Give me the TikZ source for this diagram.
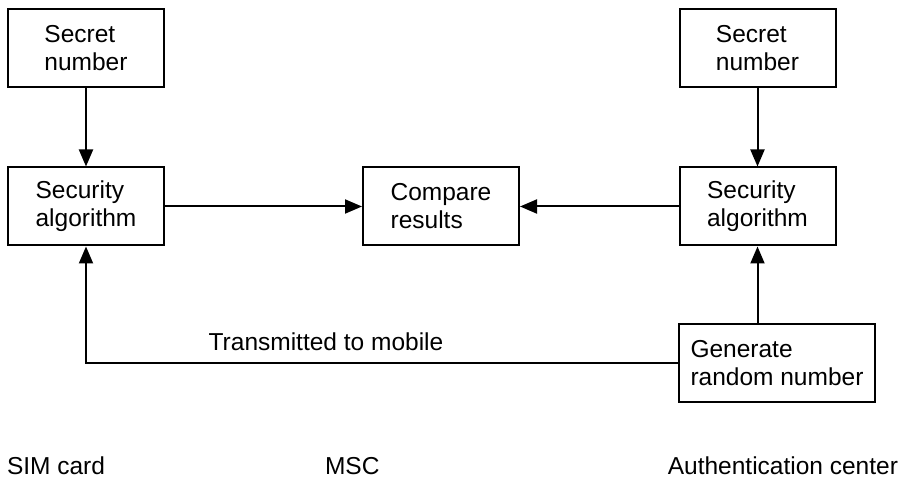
\documentclass[tikz,border=0pt]{standalone}
\usepackage{fontspec}
\setmainfont{Liberation Sans}
\usetikzlibrary{arrows.meta}

\begin{document}
\begin{tikzpicture}[x=1pt,y=1pt,
  box/.style={draw=drawColor,line width=2pt,align=left,inner sep=0pt,
    minimum width=156pt,minimum height=78pt,font=\fontsize{24.5}{28}\selectfont},
  lbl/.style={text=drawColor,inner sep=0pt,outer sep=0pt,font=\fontsize{24.5}{28}\selectfont},
  arr/.style={draw=drawColor,line width=2pt,-{Triangle[length=17pt,width=14pt]}}]
\definecolor{fillColor}{RGB}{255,255,255}
\definecolor{drawColor}{RGB}{0,0,0}
\path[use as bounding box,fill=fillColor] (0,0) rectangle (900,479);

\node[box] (secL) at ( 86.00,431.00) {Secret\\number};

\node[box] (algL) at ( 86.00,272.50) {Security\\algorithm};

\node[box] (cmp) at (441.00,272.50) {Compare\\results};

\node[box] (secR) at (757.50,431.00) {Secret\\number};

\node[box] (algR) at (757.50,272.50) {Security\\algorithm};

\node[box,minimum width=196pt] (gen) at (777.00,115.50) {Generate\\random number};

\draw[arr] (secL) -- (algL);

\draw[arr] (secR) -- (algR);

\draw[arr] (algL) -- (cmp);

\draw[arr] (algR) -- (cmp);

\draw[arr] (algR.south |- gen.north) -- (algR.south);

\draw[arr] (gen.west) -| (algL.south);

\node[lbl,anchor=base] (tx) at (326.00,128.00) {Transmitted to mobile};

\node[lbl,anchor=base west] (sim) at (  7.00,  4.00) {SIM card};

\node[lbl,anchor=base west] (msc) at (325.00,  4.00) {MSC};

\node[lbl,anchor=base east] (auc) at (898.00,  4.00) {Authentication center};
\end{tikzpicture}
\end{document}
